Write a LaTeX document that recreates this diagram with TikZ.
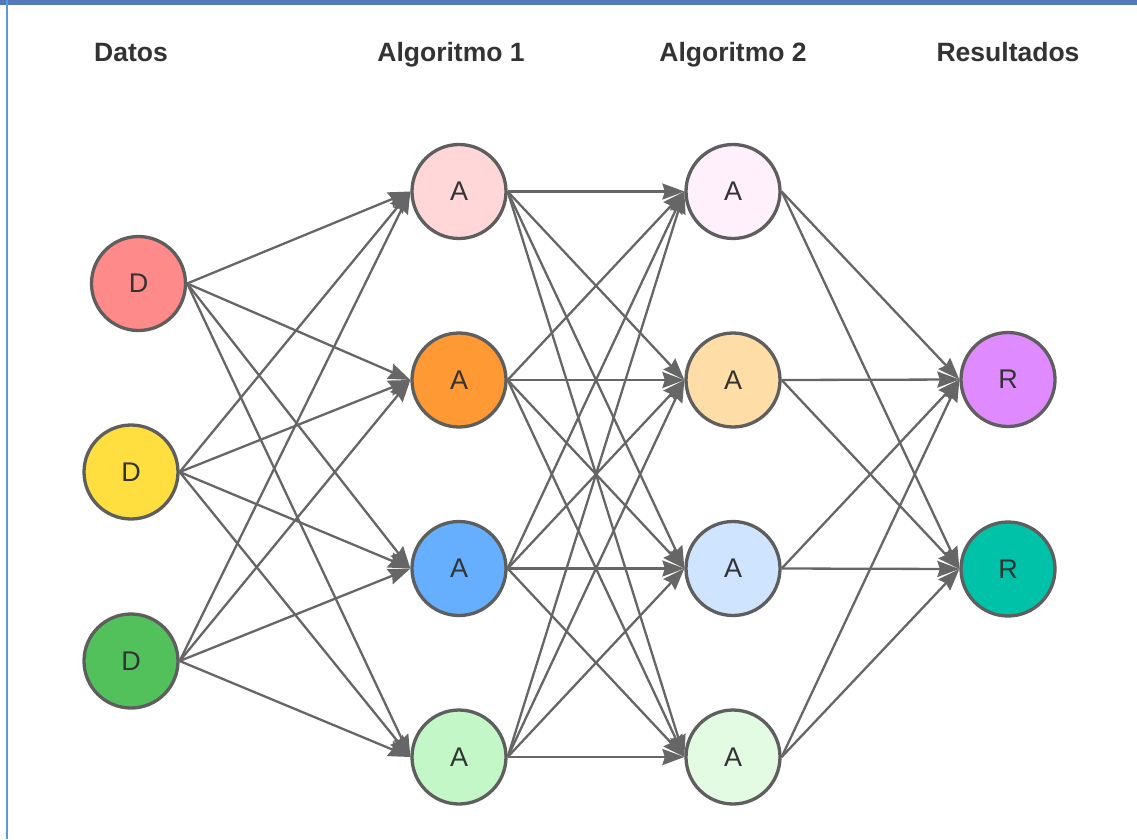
\documentclass[tikz,border=0pt]{standalone}
\usepackage{fontspec}
\setmainfont{Liberation Sans}
\usetikzlibrary{arrows.meta}
\definecolor{bordc}{HTML}{5E5E5E}
\definecolor{edgec}{HTML}{666666}
\definecolor{txtc}{HTML}{333333}
\definecolor{cD1}{HTML}{FF8A8A}
\definecolor{cD2}{HTML}{FFDF3F}
\definecolor{cD3}{HTML}{52C15C}
\definecolor{cA1}{HTML}{FFD7D9}
\definecolor{cA2}{HTML}{FF9933}
\definecolor{cA3}{HTML}{66AFFF}
\definecolor{cA4}{HTML}{C3F7C8}
\definecolor{cB1}{HTML}{FFF0FB}
\definecolor{cB2}{HTML}{FFDDA6}
\definecolor{cB3}{HTML}{CFE4FF}
\definecolor{cB4}{HTML}{E3FAE3}
\definecolor{cR1}{HTML}{E08AFF}
\definecolor{cR2}{HTML}{00C2A8}
\definecolor{frametop}{HTML}{5577BB}
\definecolor{frameleft}{HTML}{5B9BD5}
\begin{document}
\begin{tikzpicture}[x=1pt,y=-1pt,
  neuron/.style={circle, draw=bordc, line width=3.3pt, minimum size=94pt, inner sep=0pt,
    text=txtc, font=\fontsize{27}{32}\selectfont},
  title/.style={text=txtc, anchor=base, font=\fontsize{26.5}{31}\selectfont\bfseries},
  conn/.style={draw=edgec, line width=2.3pt, -{Stealth[length=22pt,width=16pt,inset=2.5pt]}}]
\useasboundingbox (0,0) rectangle (1137,839);
\fill[white] (0,0) rectangle (1137,839);
\fill[frametop] (0,0) rectangle (1137,5);
\draw[frameleft, line width=2pt] (6.5,0) -- (6.5,839);
% titles
\node[title] (tD) at (131,61.5) {Datos};
\node[title] (tA1) at (451,61.5) {Algoritmo 1};
\node[title] (tA2) at (733,61.5) {Algoritmo 2};
\node[title] (tR) at (1008,61.5) {Resultados};
% nodes
\node[neuron, fill=cD1] (d1) at (138.5,283.5) {D};
\node[neuron, fill=cD2] (d2) at (131,472) {D};
\node[neuron, fill=cD3] (d3) at (131,661) {D};
\node[neuron, fill=cA1] (a1) at (459,191.5) {A};
\node[neuron, fill=cA2] (a2) at (459,380) {A};
\node[neuron, fill=cA3] (a3) at (459,568.5) {A};
\node[neuron, fill=cA4] (a4) at (459,757) {A};
\node[neuron, fill=cB1] (b1) at (733,191.5) {A};
\node[neuron, fill=cB2] (b2) at (733,380) {A};
\node[neuron, fill=cB3] (b3) at (733,568.5) {A};
\node[neuron, fill=cB4] (b4) at (733,757) {A};
\node[neuron, fill=cR1] (r1) at (1008,379.5) {R};
\node[neuron, fill=cR2] (r2) at (1008,569) {R};
% connectors
\foreach \s in {d1,d2,d3}
  \foreach \t in {a1,a2,a3,a4}
    \draw[conn] (\s.east) -- (\t.west);
\foreach \s in {a1,a2,a3,a4}
  \foreach \t in {b1,b2,b3,b4}
    \draw[conn] (\s.east) -- (\t.west);
\foreach \s in {b1,b2,b3,b4}
  \foreach \t in {r1,r2}
    \draw[conn] (\s.east) -- (\t.west);
\end{tikzpicture}
\end{document}
